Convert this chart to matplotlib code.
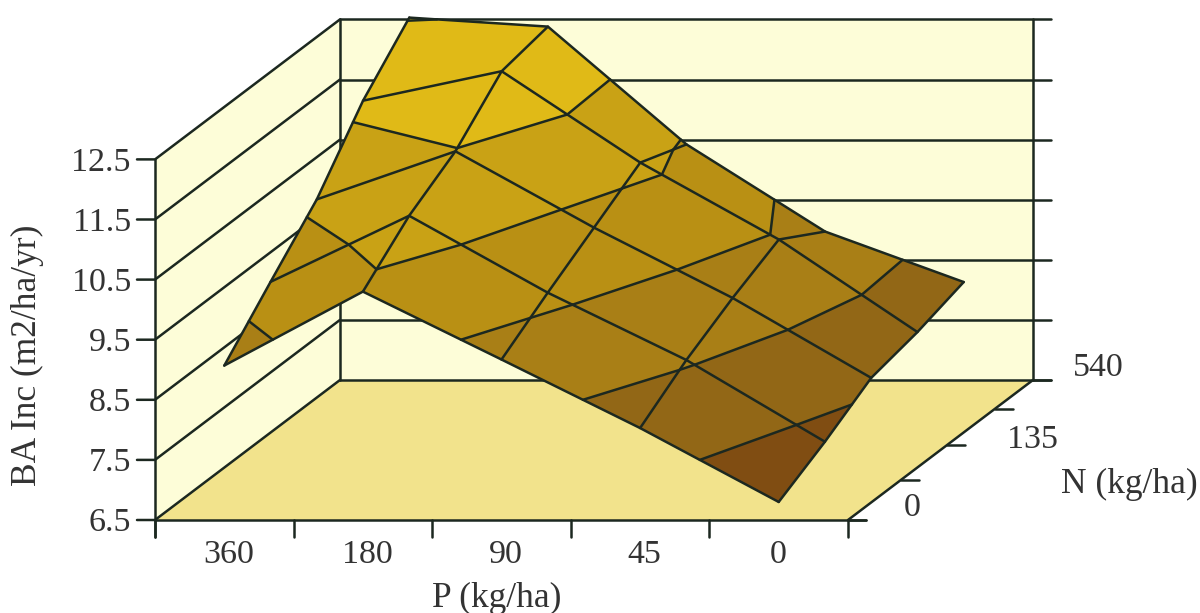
import matplotlib

matplotlib.use("Agg")
import matplotlib.pyplot as plt
import numpy as np
from mpl_toolkits.mplot3d.art3d import Poly3DCollection

p_labels = ["360", "180", "90", "45", "0"]
n_labels = ["0", "", "135", "", "540"]

# BA increment, one list per N series (front to back)
z_n0 = [9.07, 10.30, 9.17, 8.03, 6.80]
z_n1 = [9.88, 10.98, 9.70, 8.58, 7.22]
z_n2 = [10.67, 11.47, 10.20, 9.03, 7.70]
z_n3 = [11.73, 12.22, 10.70, 9.42, 7.88]
z_n4 = [12.53, 12.38, 10.42, 8.97, 8.13]

z_ticks = [6.5, 7.5, 8.5, 9.5, 10.5, 11.5, 12.5]
n_tick_pos = [0.0, 1.14, 2.14, 3.17, 4.0]
band_colors = ["#804d12", "#926716", "#a97f16", "#b99014", "#c9a215", "#e0ba17"]

LINE = "#1c2820"
TEXT = "#333333"
WALL = "#fdfdd8"
FLOOR = "#f2e38c"

# oblique view of the chart box, in figure pixels
DX, DNX, DNY, DZ = 138.6, 46.25, 35.0, 60.1
X0, Y0 = 155.0, 520.0


def oblique_proj():
    return np.array(
        [
            [DX, DNX, 0.0, X0],
            [0.0, -DNY, -DZ, Y0 + DZ * z_ticks[0]],
            [0.0, 1.0, 0.0, 0.0],
            [0.0, 0.0, 0.0, 1.0],
        ]
    )


def clip_band(poly, lo, hi):
    # cut a polygon (x, y, z) down to the part with lo <= z <= hi
    for level, sign in ((lo, 1.0), (hi, -1.0)):
        out = []
        for i in range(len(poly)):
            a, b = poly[i], poly[(i + 1) % len(poly)]
            da, db = sign * (a[2] - level), sign * (b[2] - level)
            if da >= 0:
                out.append(a)
            if da * db < 0:
                out.append(a + (b - a) * da / (da - db))
        poly = out
        if not poly:
            break
    return poly


def contour_segment(quad, level):
    pts = []
    for i in range(4):
        a, b = quad[i], quad[(i + 1) % 4]
        if (a[2] - level) * (b[2] - level) < 0:
            pts.append(a + (b - a) * (level - a[2]) / (b[2] - a[2]))
    return pts


Z = np.array([z_n0, z_n1, z_n2, z_n3, z_n4])
xs = np.arange(len(p_labels)) + 0.5
ys = np.arange(Z.shape[0])

fig = plt.figure(figsize=(12.0, 6.13), dpi=100)
ax = fig.add_axes([0, 0, 1, 1], projection="3d")
ax.set_axis_off()
ax.set_proj_type("ortho")
ax.computed_zorder = False
ax.get_proj = oblique_proj
ax.apply_aspect = lambda position=None: None
ax.viewLim.intervalx = (0, 1200)
ax.viewLim.intervaly = (613, 0)

zb, zt = z_ticks[0], z_ticks[-1]
xe, ye = float(len(p_labels)), float(ys[-1])

walls = [
    [(0, 0, zb), (0, ye, zb), (0, ye, zt), (0, 0, zt)],
    [(0, ye, zb), (xe, ye, zb), (xe, ye, zt), (0, ye, zt)],
]
ax.add_collection3d(
    Poly3DCollection(walls, facecolors=WALL, edgecolors="none", zorder=1), autolim=False
)
floor = [[(0, 0, zb), (xe, 0, zb), (xe, ye, zb), (0, ye, zb)]]
ax.add_collection3d(
    Poly3DCollection(floor, facecolors=FLOOR, edgecolors="none", zorder=1), autolim=False
)

line_kw = dict(color=LINE, linewidth=1.8, solid_capstyle="round", zorder=2)
stub = 18.0 / DX
for z in z_ticks:
    ax.plot([-stub, 0, 0], [0, 0, ye], [z, z, z], **line_kw)
    ax.plot([0, xe + stub], [ye, ye], [z, z], **line_kw)
ax.plot([0, 0], [0, 0], [zb - 17.0 / DZ, zt], **line_kw)
ax.plot([0, 0], [ye, ye], [zb, zt], **line_kw)
ax.plot([xe, xe], [ye, ye], [zb, zt], **line_kw)
ax.plot([0, xe + stub], [0, 0], [zb, zb], **line_kw)
ax.plot([xe, xe], [0, ye], [zb, zb], **line_kw)
for i in range(len(p_labels) + 1):
    ax.plot([i, i], [0, 0], [zb, zb - 17.0 / DZ], **line_kw)
for n in n_tick_pos:
    ax.plot([xe, xe + stub], [n, n], [zb, zb], **line_kw)

# surface, split in one flat polygon per value band
polys, colors, segments = [], [], []
for j in range(Z.shape[0] - 2, -1, -1):
    for i in range(Z.shape[1] - 1):
        quad = [
            np.array([xs[i], ys[j], Z[j, i]]),
            np.array([xs[i + 1], ys[j], Z[j, i + 1]]),
            np.array([xs[i + 1], ys[j + 1], Z[j + 1, i + 1]]),
            np.array([xs[i], ys[j + 1], Z[j + 1, i]]),
        ]
        for k, col in enumerate(band_colors):
            part = clip_band(quad, z_ticks[k] + (0 if k else -9), z_ticks[k + 1] + (9 if k == 5 else 0))
            if len(part) >= 3:
                polys.append(part)
                colors.append(col)
        for level in z_ticks[1:]:
            pts = contour_segment(quad, level)
            if len(pts) >= 2:
                segments.append(pts[:2])

ax.add_collection3d(
    Poly3DCollection(polys, facecolors=colors, edgecolors=colors, linewidths=0.3, zorder=3),
    autolim=False,
)

grid_kw = dict(color=LINE, linewidth=1.8, solid_capstyle="round", zorder=4)
for j in ys:
    ax.plot(xs, np.full_like(xs, j), Z[j], **grid_kw)
for i in range(len(xs)):
    ax.plot(np.full(len(ys), xs[i]), ys, Z[:, i], **grid_kw)
for a, b in segments:
    ax.plot([a[0], b[0]], [a[1], b[1]], [a[2], b[2]], **grid_kw)

text_kw = dict(
    transform=ax.transData, family="Liberation Serif", color=TEXT, va="center", zorder=5,
)
for i, z in enumerate(z_ticks):
    ax.text2D(131, Y0 + 3 - DZ * i, f"{z:.1f}", ha="right", fontsize=24.5, **text_kw)
for i, lab in enumerate(p_labels):
    ax.text2D(X0 + DX * (i + 0.5) + 4 - (0 if i < 4 else 5), 555, lab, ha="center", fontsize=24.5, **text_kw)
ax.text2D(912, 508, n_labels[0], ha="center", fontsize=24.5, **text_kw)
ax.text2D(1033, 440, n_labels[2], ha="center", fontsize=24.5, **text_kw)
ax.text2D(1098, 368, n_labels[4], ha="center", fontsize=24.5, **text_kw)
ax.text2D(497, 598, "P (kg/ha)", ha="center", fontsize=25.5, **text_kw)
ax.text2D(1129, 484, "N (kg/ha)", ha="center", fontsize=25.5, **text_kw)
ax.text2D(27, 355, "BA Inc (m2/ha/yr)", ha="center", rotation=90, fontsize=25.5, **text_kw)

fig.savefig("out.png", dpi=100)
